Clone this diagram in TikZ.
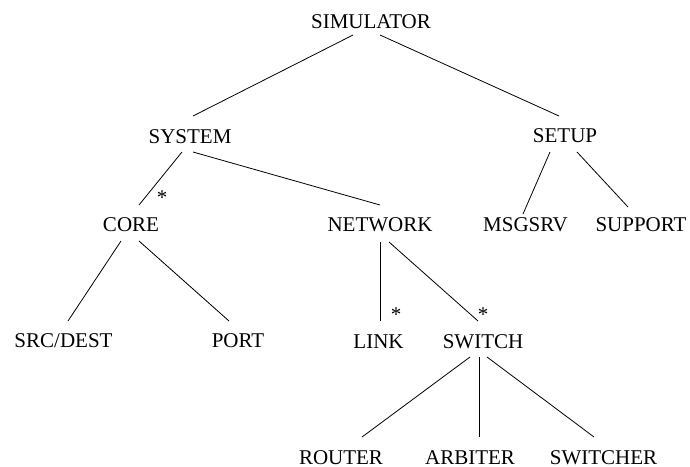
\documentclass[tikz,border=0pt]{standalone}
\usepackage{fontspec}
\setmainfont{Liberation Serif}
\usetikzlibrary{calc}
\begin{document}
\begin{tikzpicture}[x=1pt,y=-1pt,
  lbl/.style={inner sep=0pt,text height=13.9pt,text depth=0pt,font=\fontsize{21}{25}\selectfont},
  star/.style={inner sep=0pt,font=\fontsize{21}{25}\selectfont},
  edge/.style={line width=0.8pt}]
\useasboundingbox (0,0) rectangle (690,466);
\node[lbl] (sim) at (371,21.5) {SIMULATOR};
\node[lbl] (sys) at (190,136.5) {SYSTEM};
\node[lbl] (setup) at (565,135.5) {SETUP};
\node[lbl] (core) at (131,225) {CORE};
\node[lbl] (net) at (380,225) {NETWORK};
\node[lbl] (msg) at (525.5,225) {MSGSRV};
\node[lbl] (sup) at (641,225) {SUPPORT};
\node[lbl] (src) at (63.5,340.5) {SRC/DEST};
\node[lbl] (port) at (238,340.5) {PORT};
\node[lbl] (link) at (378.5,341.5) {LINK};
\node[lbl] (sw) at (483,341.5) {SWITCH};
\node[lbl] (rout) at (341,457.5) {ROUTER};
\node[lbl] (arb) at (470,457.5) {ARBITER};
\node[lbl] (swr) at (603.5,457.5) {SWITCHER};
\node[star] (s1) at (162,198) {*};
\node[star] (s2) at (396,315) {*};
\node[star] (s3) at (483,315) {*};
\draw[edge] ($(sim)+(-18,13.5)$) -- ($(sys)+(3,-20.5)$);
\draw[edge] ($(sim)+(9,13.5)$) -- ($(setup)+(-6,-19.5)$);
\draw[edge] ($(sys)+(-8,15.5)$) -- ($(core)+(8,-20)$);
\draw[edge] ($(sys)+(3,15.5)$) -- ($(net)+(0,-20)$);
\draw[edge] ($(setup)+(-15,16.5)$) -- ($(msg)+(-2.5,-11)$);
\draw[edge] ($(setup)+(12,16.5)$) -- ($(sup)+(-13,-18)$);
\draw[edge] ($(core)+(-10,16)$) -- ($(src)+(4.5,-19.5)$);
\draw[edge] ($(core)+(8,16)$) -- ($(port)+(-9,-19.5)$);
\draw[edge] ($(net)+(0,17)$) -- ($(link)+(1.5,-20.5)$);
\draw[edge] ($(net)+(9,17)$) -- ($(sw)+(-5,-20.5)$);
\draw[edge] ($(sw)+(-13,15.5)$) -- ($(rout)+(21,-20.5)$);
\draw[edge] ($(sw)+(-4,15.5)$) -- ($(arb)+(9,-20.5)$);
\draw[edge] ($(sw)+(4,15.5)$) -- ($(swr)+(-9.5,-20.5)$);
\end{tikzpicture}
\end{document}
